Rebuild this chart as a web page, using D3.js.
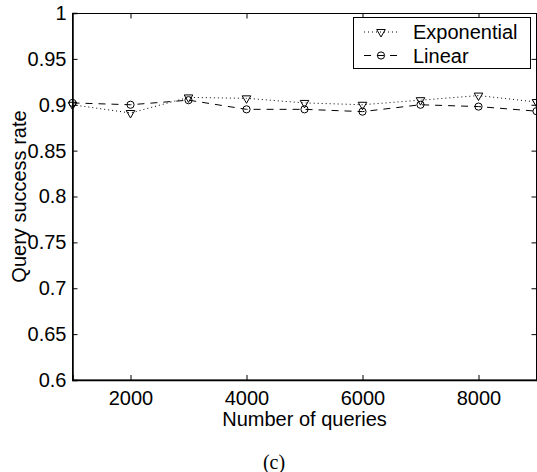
<!DOCTYPE html>
<html>
<head>
<meta charset="utf-8">
<script src="https://cdn.jsdelivr.net/npm/d3@7"></script>
<style>
  body { margin: 0; background: #fff; }
  svg { display: block; }
  text { font-family: "Liberation Sans", Arial, Helvetica, sans-serif; fill: #000; }
</style>
</head>
<body>
<svg id="chart" width="537" height="472"></svg>
<script>
// ---- data ----
const queries = [1000, 2000, 3000, 4000, 5000, 6000, 7000, 8000, 9000];
const exponential = [0.900, 0.891, 0.908, 0.907, 0.902, 0.900, 0.905, 0.910, 0.903];
const linear = [0.902, 0.900, 0.905, 0.895, 0.895, 0.8925, 0.900, 0.898, 0.893];
const xTicks = [2000, 4000, 6000, 8000];
const yTicks = [0.6, 0.65, 0.7, 0.75, 0.8, 0.85, 0.9, 0.95, 1];
const seriesNames = ["Exponential", "Linear"];

const svg = d3.select("#chart");
const L = 72.5, R = 536.5, T = 13, B = 380;

const x = d3.scaleLinear().domain([1000, 9000]).range([L, R]);
const y = d3.scaleLinear().domain([0.6, 1]).range([B, T]);

const fs = 20;
const tickLen = 5;

// box
svg.append("rect").attr("x", L).attr("y", T + 0.5).attr("width", R - L).attr("height", B - T - 0.5)
  .attr("fill", "none").attr("stroke", "#000").attr("stroke-width", 1);

// axes
const xAxisB = d3.axisBottom(x).tickValues(xTicks).tickSize(-tickLen).tickPadding(7).tickFormat(d3.format("d"));
const gxb = svg.append("g").attr("transform", `translate(0,${B})`).call(xAxisB);
gxb.select(".domain").attr("stroke-width", 1.5);
gxb.selectAll("text").attr("font-size", fs).attr("font-family", "Liberation Sans, Arial, sans-serif").attr("dy", "0.9em");

const xAxisT = d3.axisTop(x).tickValues(xTicks).tickSize(-tickLen).tickFormat("");
const gxt = svg.append("g").attr("transform", `translate(0,${T + 0.5})`).call(xAxisT);
gxt.select(".domain").remove();

const yAxisL = d3.axisLeft(y).tickValues(yTicks).tickSize(-tickLen).tickPadding(6)
  .tickFormat(d => d3.format("")(+d.toFixed(2)));
const gyl = svg.append("g").attr("transform", `translate(${L},0)`).call(yAxisL);
gyl.select(".domain").attr("stroke-width", 1.5);
gyl.selectAll("text").attr("font-size", fs).attr("font-family", "Liberation Sans, Arial, sans-serif");

const yAxisR = d3.axisRight(y).tickValues(yTicks).tickSize(-tickLen).tickFormat("");
const gyr = svg.append("g").attr("transform", `translate(${R},0)`).call(yAxisR);
gyr.select(".domain").remove();

svg.selectAll(".tick line").attr("stroke", "#000");

// lines
const lineGen = d3.line().x((d, i) => x(queries[i])).y(d => y(d));

svg.append("path").datum(exponential).attr("d", lineGen)
  .attr("fill", "none").attr("stroke", "#000").attr("stroke-width", 1).attr("stroke-dasharray", "1,3");
svg.append("path").datum(linear).attr("d", lineGen)
  .attr("fill", "none").attr("stroke", "#000").attr("stroke-width", 1).attr("stroke-dasharray", "7,6");

const triSym = d3.symbol().type(d3.symbolTriangle).size(32);
function drawTri(g, cx, cy) {
  g.append("path").attr("d", triSym()).attr("transform", `translate(${cx},${cy}) rotate(180)`)
    .attr("fill", "none").attr("stroke", "#000").attr("stroke-width", 1);
}
function drawCirc(g, cx, cy) {
  g.append("circle").attr("cx", cx).attr("cy", cy).attr("r", 3.6)
    .attr("fill", "none").attr("stroke", "#000").attr("stroke-width", 1);
}

const mk = svg.append("g");
exponential.forEach((v, i) => drawTri(mk, x(queries[i]), y(v)));
linear.forEach((v, i) => drawCirc(mk, x(queries[i]), y(v)));

// legend
const lg = svg.append("g");
lg.append("rect").attr("x", 353.5).attr("y", 17.5).attr("width", 177).attr("height", 51)
  .attr("fill", "#fff").attr("stroke", "#000").attr("stroke-width", 1);
const rows = [32, 55.5];
lg.append("line").attr("x1", 364).attr("x2", 398).attr("y1", rows[0]).attr("y2", rows[0])
  .attr("stroke", "#000").attr("stroke-dasharray", "1,3");
drawTri(lg, 381, rows[0]);
lg.append("line").attr("x1", 364).attr("x2", 399).attr("y1", rows[1]).attr("y2", rows[1])
  .attr("stroke", "#000").attr("stroke-dasharray", "7,6");
drawCirc(lg, 381, rows[1]);
seriesNames.forEach((n, i) => {
  lg.append("text").attr("x", 413).attr("y", rows[i]).attr("dy", "0.35em")
    .attr("font-size", fs).text(n);
});

// axis titles
svg.append("text").attr("x", (L + R) / 2).attr("y", 419).attr("dy", "0.35em")
  .attr("text-anchor", "middle").attr("font-size", fs).text("Number of queries");
svg.append("text").attr("transform", `translate(19,${(T + B) / 2}) rotate(-90)`)
  .attr("dy", "0.35em").attr("text-anchor", "middle").attr("font-size", fs).text("Query success rate");

svg.append("text").attr("x", 274).attr("y", 462).attr("dy", "0.35em").attr("text-anchor", "middle")
  .attr("font-size", 20).style("font-family", "'Liberation Serif', 'Times New Roman', serif").text("(c)");
</script>
</body>
</html>
